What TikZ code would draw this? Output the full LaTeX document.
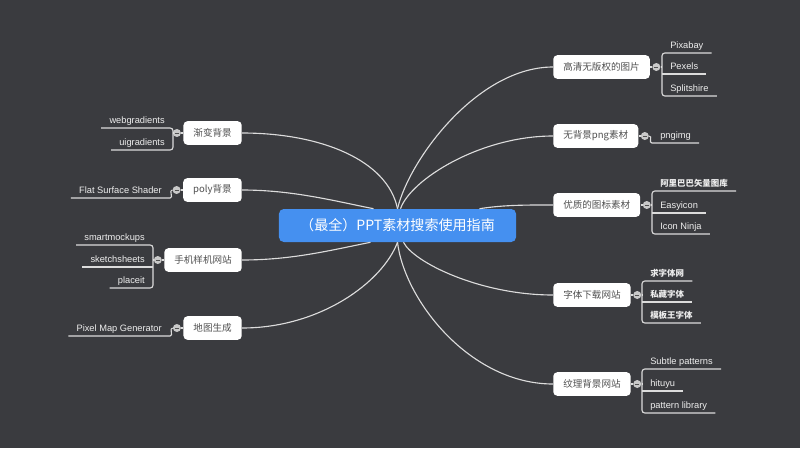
\documentclass[tikz,border=0pt]{standalone}
\usepackage{fontspec}
\setmainfont{Liberation Sans}
\newfontfamily\cjk{Noto Sans CJK SC}
\usetikzlibrary{positioning}
\definecolor{board}{HTML}{3A3B3F}
\definecolor{rootblue}{HTML}{4590F0}
\definecolor{linec}{HTML}{DCDCDC}
\definecolor{topicink}{HTML}{505050}
\definecolor{leafink}{HTML}{EEEEEE}
\definecolor{foldgray}{HTML}{C9C9C9}
\tikzset{
  root/.style={rectangle, rounded corners=0.12cm, fill=rootblue, text=white,
               font=\cjk\fontsize{10}{12}\selectfont,
               minimum width=5.925cm, minimum height=0.825cm, inner sep=0pt},
  topic/.style={rectangle, rounded corners=0.1cm, fill=white, text=topicink,
                font=\cjk\fontsize{6.8}{8}\selectfont,
                minimum height=0.59cm, inner xsep=0.25cm, inner ysep=0pt},
  leaf/.style={inner xsep=0.2cm, inner ysep=0.05cm, text=leafink,
               font=\fontsize{6.6}{8}\selectfont, text height=1.6ex, text depth=0.3ex},
  leafcn/.style={leaf, font=\cjk\bfseries\fontsize{6}{7}\selectfont},
  fold/.style={circle, fill=foldgray, minimum size=0.2cm, inner sep=0pt,
               path picture={\draw[topicink, line width=0.5pt]
                 ([xshift=-0.05cm]path picture bounding box.center) --
                 ([xshift=0.05cm]path picture bounding box.center);}},
  wire/.style={draw=linec, line width=0.8pt},
  bracket/.style={wire, rounded corners=0.07cm}
}
\begin{document}
\begin{tikzpicture}[x=0.025cm,y=-0.025cm]

% Dark board, fixes the page size.
\fill[board] (0,0) rectangle (800,448);
\useasboundingbox (0,0) rectangle (800,448);

% Central topic.
\node[root] (root) at (397.5,225.5) {（最全）PPT素材搜索使用指南};

% Right-hand topics and their fold buttons.
\node[topic, anchor=west] (gaoqing) at (553,67) {高清无版权的图片};
\node[topic, anchor=west] (wubeijing) at (553,136) {无背景png素材};
\node[topic, anchor=west] (tubiao) at (553,205) {优质的图标素材};
\node[topic, anchor=west] (ziti) at (553,295) {字体下载网站};
\node[topic, anchor=west] (wenli) at (553,384) {纹理背景网站};
\node[fold, right=0.05cm of gaoqing] (fgq) {};
\node[fold, right=0.05cm of wubeijing] (fpng) {};
\node[fold, right=0.05cm of tubiao] (ftb) {};
\node[fold, right=0.05cm of ziti] (fzt) {};
\node[fold, right=0.05cm of wenli] (fwl) {};

% Left-hand topics and their fold buttons.
\node[topic, anchor=east] (jianbian) at (242,133) {渐变背景};
\node[topic, anchor=east] (poly) at (242,190) {poly背景};
\node[topic, anchor=east] (shouji) at (242,260) {手机样机网站};
\node[topic, anchor=east] (ditu) at (242,328) {地图生成};
\node[fold, left=0.05cm of jianbian] (fjb) {};
\node[fold, left=0.05cm of poly] (fpoly) {};
\node[fold, left=0.05cm of shouji] (fsj) {};
\node[fold, left=0.05cm of ditu] (fdt) {};

% Leaves on the right, sitting on their underlines.
\node[leaf, anchor=south west] (pixabay) at (662,53) {Pixabay};
\node[leaf, anchor=south west] (pexels) at (662,74) {Pexels};
\node[leaf, anchor=south west] (splitshire) at (662,96) {Splitshire};
\node[leaf, anchor=south west] (pngimg) at (652,143) {pngimg};
\node[leafcn, anchor=south west] (ali) at (652,191) {阿里巴巴矢量图库};
\node[leaf, anchor=south west] (easyicon) at (652,213) {Easyicon};
\node[leaf, anchor=south west] (ninja) at (652,234) {Icon Ninja};
\node[leafcn, anchor=south west] (qiu) at (642,281) {求字体网};
\node[leafcn, anchor=south west] (sicang) at (642,302) {私藏字体};
\node[leafcn, anchor=south west] (muban) at (642,323) {模板王字体};
\node[leaf, anchor=south west] (subtle) at (642,369) {Subtle patterns};
\node[leaf, anchor=south west] (hituyu) at (642,391) {hituyu};
\node[leaf, anchor=south west] (plib) at (642,413) {pattern library};

% Leaves on the left.
\node[leaf, anchor=south east] (webg) at (173,128) {webgradients};
\node[leaf, anchor=south east] (uig) at (173,150) {uigradients};
\node[leaf, anchor=south east] (flat) at (170,198) {Flat Surface Shader};
\node[leaf, anchor=south east] (smart) at (153,245) {smartmockups};
\node[leaf, anchor=south east] (sketch) at (153,267) {sketchsheets};
\node[leaf, anchor=south east] (placeit) at (153,288) {placeit};
\node[leaf, anchor=south east] (pixel) at (170,336) {Pixel Map Generator};

% Curved links from the central topic.
\draw[wire] (root.north) .. controls +(12,-50) and +(-75,0) .. (gaoqing.west);
\draw[wire] ([xshift=0.075cm]root.north) .. controls +(10,-29) and +(-73,0) .. (wubeijing.west);
\draw[wire] ([xshift=2.05cm]root.north) .. controls +(25,-4) and +(-25,0) .. (tubiao.west);
\draw[wire] ([xshift=0.15cm]root.south) .. controls +(10,20) and +(-73,0) .. (ziti.west);
\draw[wire] (root.south) .. controls +(7,58) and +(-83,0) .. (wenli.west);
\draw[wire] (jianbian.east) .. controls +(78,0) and +(-10,-49) .. (root.north);
\draw[wire] (poly.east) .. controls +(50,0) and +(-40,-8) .. ([xshift=-0.6cm]root.north);
\draw[wire] (shouji.east) .. controls +(50,0) and +(-40,8) .. ([xshift=-0.675cm]root.south);
\draw[wire] (ditu.east) .. controls +(78,0) and +(-15,40) .. (root.south);

% Topic to fold button.
\foreach \t/\f in {gaoqing/fgq,wubeijing/fpng,tubiao/ftb,ziti/fzt,wenli/fwl}
  \draw[wire] (\t.east) -- (\f.west);
\foreach \t/\f in {jianbian/fjb,poly/fpoly,shouji/fsj,ditu/fdt}
  \draw[wire] (\t.west) -- (\f.east);

% Right brackets and underlines.
\draw[bracket] (pixabay.south east) -- (pixabay.south west)
  -- (splitshire.south west) -- (splitshire.south east);
\draw[wire] (pexels.south west) -- (pexels.south east);
\draw[wire] (fgq.east) -- (fgq.east -| pexels.south west);
\draw[wire] (fpng.east) .. controls +(4,0) and +(-4,0) .. (pngimg.south west)
  -- (pngimg.south east);
\draw[bracket] (ali.south east) -- (ali.south west)
  -- (ninja.south west) -- (ninja.south east);
\draw[wire] (easyicon.south west) -- (easyicon.south east);
\draw[wire] (ftb.east) -- (ftb.east -| easyicon.south west);
\draw[bracket] (qiu.south east) -- (qiu.south west)
  -- (muban.south west) -- (muban.south east);
\draw[wire] (sicang.south west) -- (sicang.south east);
\draw[wire] (fzt.east) -- (fzt.east -| sicang.south west);
\draw[bracket] (subtle.south east) -- (subtle.south west)
  -- (plib.south west) -- (plib.south east);
\draw[wire] (hituyu.south west) -- (hituyu.south east);
\draw[wire] (fwl.east) -- (fwl.east -| hituyu.south west);

% Left brackets and underlines.
\draw[bracket] (webg.south west) -- (webg.south east)
  -- (uig.south east) -- (uig.south west);
\draw[wire] (fjb.west) -- (fjb.west -| webg.south east);
\draw[wire] (fpoly.west) .. controls +(-4,0) and +(4,0) .. (flat.south east)
  -- (flat.south west);
\draw[bracket] (smart.south west) -- (smart.south east)
  -- (placeit.south east) -- (placeit.south west);
\draw[wire] (sketch.south west) -- (sketch.south east);
\draw[wire] (fsj.west) -- (fsj.west -| sketch.south east);
\draw[wire] (fdt.west) .. controls +(-4,0) and +(4,0) .. (pixel.south east)
  -- (pixel.south west);

\end{tikzpicture}
\end{document}
